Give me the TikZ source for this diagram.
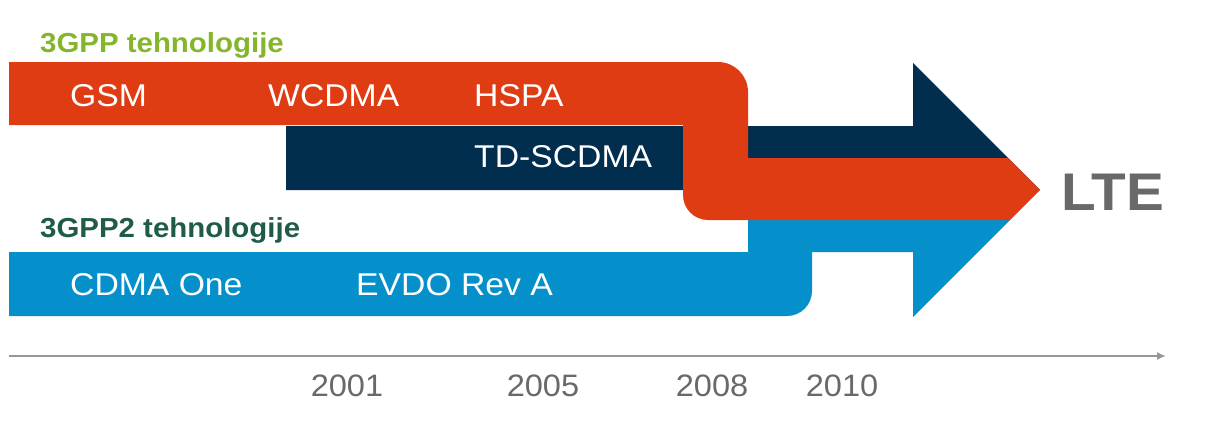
\documentclass[tikz,border=0pt]{standalone}
\usepackage{fontspec}
\setmainfont[FakeStretch=1.07]{Liberation Sans}
\newfontfamily\yearfont[FakeStretch=1.05]{Liberation Sans}
\usetikzlibrary{arrows.meta}
\definecolor{orng}{RGB}{224,60,20}
\definecolor{navy}{RGB}{1,46,79}
\definecolor{cblue}{RGB}{5,144,204}
\definecolor{lgreen}{RGB}{132,181,43}
\definecolor{dgreen}{RGB}{30,92,72}
\definecolor{ltegray}{RGB}{105,105,105}
\definecolor{axgray}{RGB}{150,150,150}
\tikzset{
  band/.style={inner sep=0, anchor=base west, text=white, font=\fontsize{31.5}{31.5}\selectfont},
  grouplbl/.style={inner sep=0, anchor=base west, font=\bfseries\fontsize{27.5}{27.5}\selectfont},
  yearlbl/.style={inner sep=0, anchor=base, text=ltegray, font=\yearfont\fontsize{31}{31}\selectfont},
  axisline/.style={draw=axgray, line width=1.6pt, -{Latex[length=9pt,width=8pt]}}
}
\begin{document}
\begin{tikzpicture}[x=1pt,y=-1pt]
\useasboundingbox (0,0) rectangle (1209,423);
% navy stripe
\fill[navy] (286,126) -- (913,126) -- (913,63) -- (1040,190) -- (286,190) -- cycle;
% blue stripe
\fill[cblue] (9,252) -- (748,252) -- (748,220) -- (1010,220) -- (913,317) -- (913,252)
  -- (812,252) -- (812,291) arc[start angle=0,end angle=90,radius=25] -- (9,316) -- cycle;
% orange stripe
\fill[orng] (9,62) -- (718,62) arc[start angle=-90,end angle=0,radius=30] -- (748,158)
  -- (1008,158) -- (1040,190) -- (1010,220) -- (708,220)
  arc[start angle=90,end angle=180,radius=25] -- (683,125) -- (9,125) -- cycle;
% labels
\node[grouplbl, text=lgreen] (g1) at (40,52) {3GPP tehnologije};
\node[grouplbl, text=dgreen] (g2) at (40,237) {3GPP2 tehnologije};
\node[band] (gsm) at (70,106) {GSM};
\node[band] (wcdma) at (268,106) {WCDMA};
\node[band] (hspa) at (474,106) {HSPA};
\node[band] (td) at (474,167) {TD-SCDMA};
\node[band] (cdma) at (70,295) {CDMA One};
\node[band] (evdo) at (356,295) {EVDO Rev A};
\node[inner sep=0, anchor=base west, text=ltegray, font=\bfseries\fontsize{53}{53}\selectfont] (lte) at (1061,210) {LTE};
% axis
\coordinate (ax0) at (9,356);
\coordinate (ax1) at (1166,356);
\draw[axisline] (ax0) -- (ax1);
\node[yearlbl] (y1) at (347,396) {2001};
\node[yearlbl] (y2) at (543,396) {2005};
\node[yearlbl] (y3) at (712,396) {2008};
\node[yearlbl] (y4) at (842,396) {2010};
\end{tikzpicture}
\end{document}
